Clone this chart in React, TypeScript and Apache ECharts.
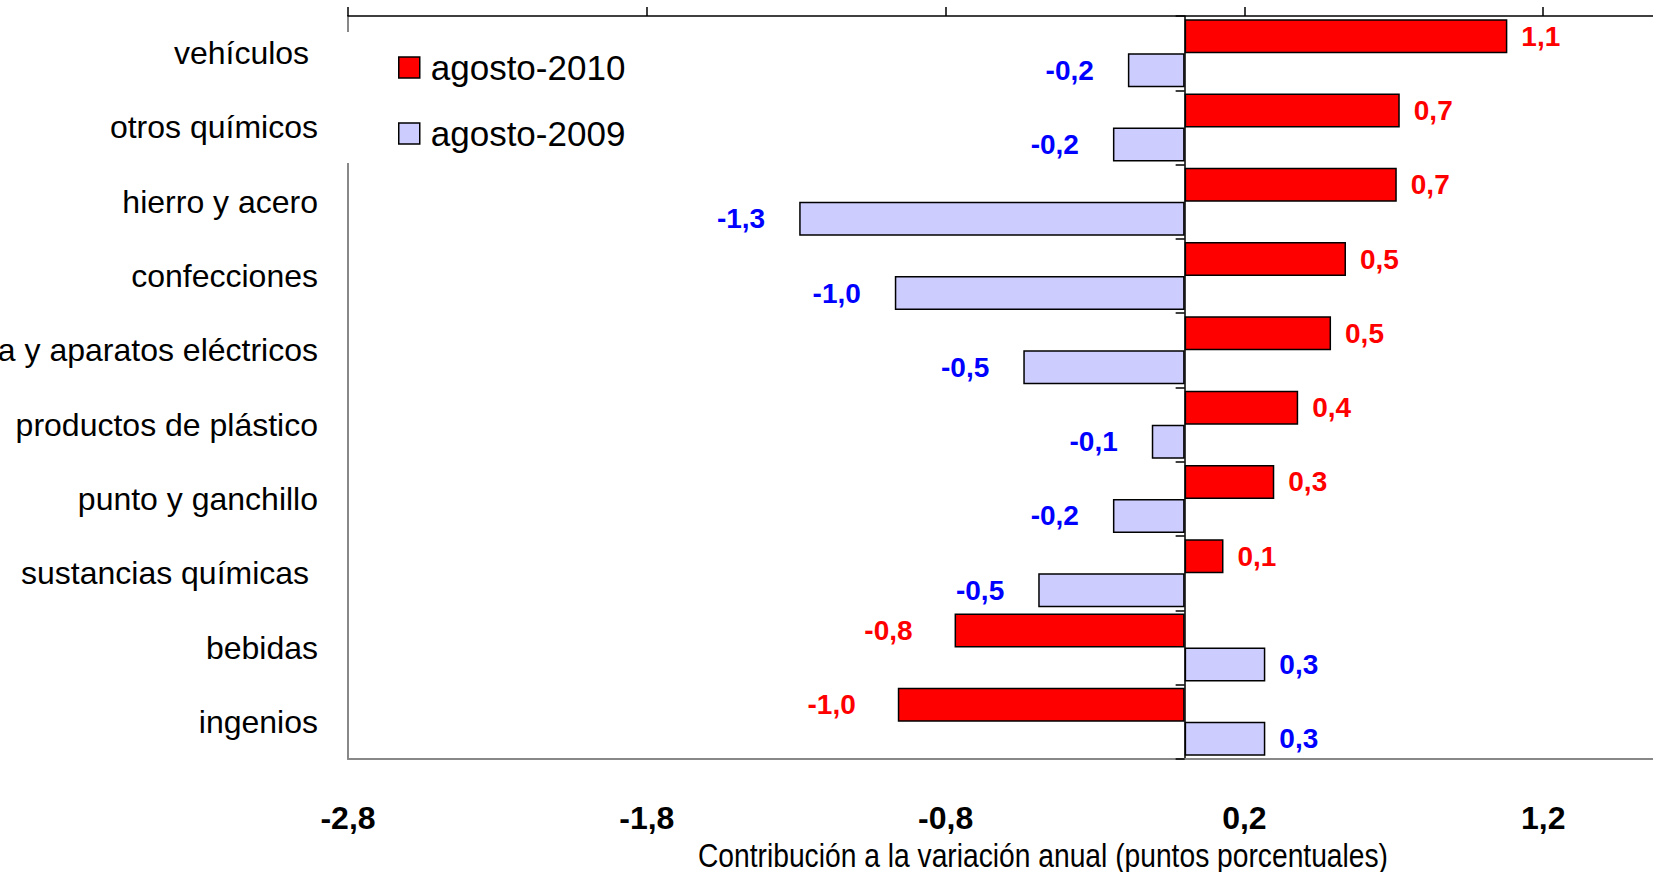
import React, { useEffect, useRef } from "react";
import * as echarts from "echarts";

const categories = [
  "vehículos ",
  "otros químicos",
  "hierro y acero",
  "confecciones",
  "maquinaria y aparatos eléctricos",
  "productos de plástico",
  "punto y ganchillo",
  "sustancias químicas ",
  "bebidas",
  "ingenios",
];

const seriesNames = ["agosto-2010", "agosto-2009"];
const values2010 = [1.08, 0.72, 0.71, 0.54, 0.49, 0.38, 0.3, 0.13, -0.77, -0.96];
const values2009 = [-0.19, -0.24, -1.29, -0.97, -0.54, -0.11, -0.24, -0.49, 0.27, 0.27];

const axisMin = -2.8;
const axisMax = 2.2;
const axisInterval = 1;
const axisTitle = "Contribución a la variación anual (puntos porcentuales)";

const FONT = "'Liberation Sans', Arial, sans-serif";

const fmt = (v: number) => v.toFixed(1).replace(".", ",");

function buildData(values: number[], posGap: number, negGap: number) {
  return values.map((v) => ({
    value: v,
    label: {
      position: v >= 0 ? "right" : "left",
      distance: v >= 0 ? posGap : negGap,
    },
  }));
}

export default function App() {
  const ref = useRef<HTMLDivElement>(null);

  useEffect(() => {
    document.body.style.margin = "0";
    if (!ref.current) return;
    const chart = echarts.init(ref.current, undefined, { renderer: "svg" });

    const barLabel = (color: string) => ({
      show: true,
      color,
      fontSize: 28,
      fontWeight: "bold",
      fontFamily: FONT,
      formatter: (p: any) => fmt(p.value),
    });

    chart.setOption({
      animation: false,
      backgroundColor: "#ffffff",
      grid: {
        left: 348,
        top: 16,
        bottom: 113,
        right: -189,
        containLabel: false,
        outerBoundsMode: "none",
      },
      legend: {
        orient: "vertical",
        left: 340,
        top: 32,
        padding: [18, 20, 12, 58],
        backgroundColor: "#ffffff",
        itemWidth: 21,
        itemHeight: 21,
        itemGap: 31,
        icon: "rect",
        textStyle: { fontSize: 35, color: "#000", fontFamily: FONT, padding: [0, 0, 0, 6] },
        data: [
          { name: seriesNames[0], itemStyle: { color: "#ff0000", borderColor: "#000", borderWidth: 1.5 } },
          { name: seriesNames[1], itemStyle: { color: "#ccccff", borderColor: "#000", borderWidth: 1.5 } },
        ],
      },
      xAxis: [
        {
          type: "value",
          position: "bottom",
          min: axisMin,
          max: axisMax,
          interval: axisInterval,
          axisLine: { show: true, onZero: false, lineStyle: { color: "#888888", width: 2 } },
          axisTick: { show: false },
          splitLine: { show: false },
          axisLabel: {
            show: true,
            showMaxLabel: false,
            margin: 43,
            fontSize: 32,
            fontWeight: "bold",
            color: "#000",
            fontFamily: FONT,
            formatter: (v: number) => fmt(v),
          },
        },
        {
          type: "value",
          position: "top",
          min: axisMin,
          max: axisMax,
          interval: axisInterval,
          axisLine: { show: true, onZero: false, lineStyle: { color: "#000", width: 1.5 } },
          axisTick: { show: true, inside: false, length: 9, lineStyle: { color: "#000", width: 1.5 } },
          splitLine: { show: false },
          axisLabel: { show: false },
        },
      ],
      yAxis: [
        {
          type: "category",
          inverse: true,
          position: "left",
          data: categories,
          axisLine: { show: true, onZero: false, lineStyle: { color: "#888888", width: 2 } },
          axisTick: { show: false },
          axisLabel: { fontSize: 32, color: "#000", margin: 30, fontFamily: FONT, padding: [10, 0, 0, 0] },
        },
        {
          type: "category",
          inverse: true,
          position: "left",
          data: categories,
          axisLine: { show: true, onZero: true, onZeroAxisIndex: 0, lineStyle: { color: "#000", width: 1.5 } },
          axisTick: { show: true, length: 9, lineStyle: { color: "#000", width: 1.5 } },
          axisLabel: { show: false },
        },
      ],
      series: [
        {
          name: seriesNames[0],
          type: "bar",
          xAxisIndex: 0,
          yAxisIndex: 0,
          barWidth: 34,
          barGap: "0%",
          itemStyle: { color: "#ff0000", borderColor: "#000", borderWidth: 1.5 },
          label: barLabel("#ff0000"),
          data: buildData(values2010, 14, 42),
        },
        {
          name: seriesNames[1],
          type: "bar",
          xAxisIndex: 0,
          yAxisIndex: 0,
          barWidth: 34,
          barGap: "0%",
          itemStyle: { color: "#ccccff", borderColor: "#000", borderWidth: 1.5 },
          label: barLabel("#0000ff"),
          data: buildData(values2009, 14, 34),
        },
      ],
      graphic: [
        {
          type: "text",
          x: 1043,
          y: 856,
          scaleX: 0.83,
          style: {
            text: axisTitle,
            fontSize: 34,
            fontFamily: FONT,
            fill: "#000",
            align: "center",
            verticalAlign: "middle",
          },
        },
      ],
    });

    return () => chart.dispose();
  }, []);

  return <div ref={ref} style={{ width: 1653, height: 872 }} />;
}
